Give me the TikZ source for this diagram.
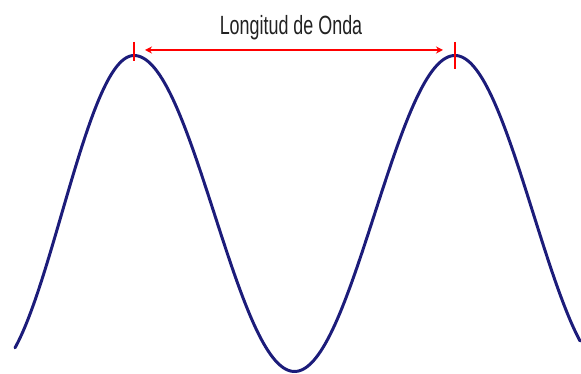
\documentclass[tikz,border=0pt]{standalone}
\usepackage{fontspec}
\setmainfont{Liberation Sans}
\newfontfamily\narrowfont[FakeStretch=0.68]{Liberation Sans}
\usetikzlibrary{arrows.meta}
\definecolor{wavecol}{HTML}{1C1C7A}
\definecolor{ink}{HTML}{222222}
\definecolor{marker}{HTML}{FF0000}

\begin{document}
\begin{tikzpicture}[x=0.02cm, y=-0.02cm,
  wave/.style={draw=wavecol, line width=1.7pt, line join=round, line cap=round},
  peaktick/.style={draw=marker, line width=1.1pt},
  arr/.style={{Stealth[length=1.4mm, width=1.4mm]}-{Stealth[length=1.4mm, width=1.4mm]}, draw=marker, line width=0.9pt},
  lab/.style={font=\narrowfont\fontsize{15}{18}\selectfont, text=ink, inner sep=0pt},
]
\useasboundingbox (0,0) rectangle (581,374);
% the wave (left flank a bit steeper)
\draw[wave]
  plot[domain=15:134, samples=60] (\x, {213.5-158*cos(1.245675*(134-\x))})
  -- plot[domain=134:455, samples=140] (\x, {213.5-158*cos(1.121495*(\x-134))})
  -- plot[domain=455:580, samples=60] (\x, {213.5-158*cos(1.150160*(\x-455))});
% wavelength marks
\draw[peaktick] (134,42) -- (134,61);
\draw[peaktick, line width=1.6pt] (455,42) -- (455,69);
\coordinate (arrL) at (145,50);
\coordinate (arrR) at (443,50);
\draw[arr] (arrL) -- (arrR);
\node[lab, anchor=base] (title) at (291,35) {Longitud de Onda};
\end{tikzpicture}
\end{document}
